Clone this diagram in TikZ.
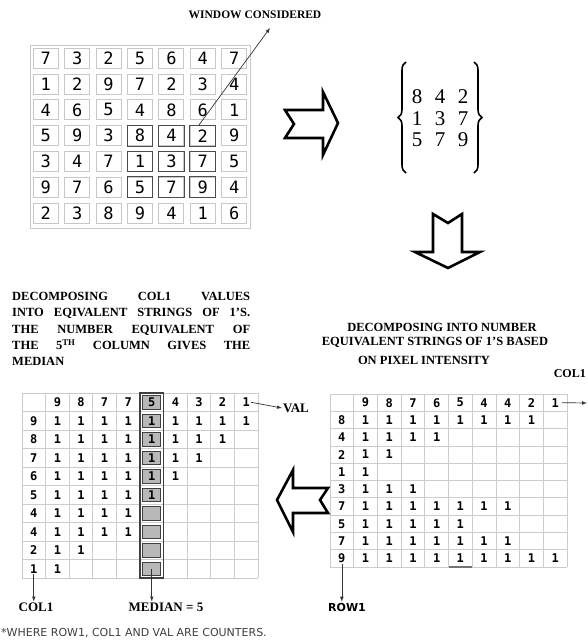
\documentclass[tikz,border=0pt]{standalone}
\usepackage{fontspec}
\usetikzlibrary{decorations.pathreplacing}
\setmainfont{Liberation Serif}
\newfontfamily\digitfont{DejaVu Sans Mono}
\newfontfamily\notefont{DejaVu Sans}

\begin{document}
\begin{tikzpicture}[x=1pt,y=-1pt,>=latex,
  cell/.style={draw=black!22,line width=0.9pt,minimum width=25pt,minimum height=20pt,inner sep=0pt,
    font=\digitfont\fontsize{17}{17}\selectfont},
  winbox/.style={draw=black!70,line width=1pt},
  matnum/.style={inner sep=0pt,font=\fontsize{21}{21}\selectfont},
  curly/.style={decorate,decoration={brace,amplitude=8pt},line width=1.6pt},
  digit/.style={inner sep=1pt,font=\digitfont\bfseries\fontsize{12}{12}\selectfont},
  gridline/.style={draw=black!20,line width=0.8pt},
  medcell/.style={draw=black!75,fill=black!28,line width=0.9pt,minimum width=18pt,minimum height=13.5pt,inner sep=0pt},
  heading/.style={font=\bfseries\fontsize{12.5}{16.3}\selectfont},
  countlabel/.style={inner sep=1pt,font=\bfseries\fontsize{13}{13}\selectfont},
  hollow/.style={draw=black,line width=2.6pt,line join=miter},
  pointer/.style={->,line width=0.7pt,draw=black!80}]

  \useasboundingbox (0,0) rectangle (588,641);
  \clip (0,0) rectangle (588,641);

  % image with the 3x3 window
  \draw[black!22,line width=0.9pt] (30,45) rectangle (250,228);
  \begin{scope}[shift={(45.8,58.3)},x=31.4pt,y=-25.8pt]
    \foreach \row [count=\r from 0] in {{7,3,2,5,6,4,7},{1,2,9,7,2,3,4},{4,6,5,4,8,6,1},
        {5,9,3,8,4,2,9},{3,4,7,1,3,7,5},{9,7,6,5,7,9,4},{2,3,8,9,4,1,6}}
      \foreach \v [count=\c from 0] in \row
        \node[cell] (g-\r-\c) at (\c,\r) {\v};
  \end{scope}
  \foreach \r in {3,4,5}
    \foreach \c in {3,4,5}
      \draw[winbox] (g-\r-\c.south west) rectangle (g-\r-\c.north east);

  \node[font=\bfseries\fontsize{11.5}{12}\selectfont] (window) at (255,15) {WINDOW CONSIDERED};
  \coordinate (wintip) at (270,28);
  \draw[pointer] ([xshift=-4pt]g-3-5.north) -- (wintip);

  % arrow to the window values
  \draw[hollow] (285,110) -- (323,110) -- (323,92) -- (338,123) -- (323,155) -- (323,138)
    -- (285,138) -- (294,124) -- cycle;

  % window values
  \foreach \row [count=\r from 0] in {{8,4,2},{1,3,7},{5,7,9}}
    \foreach \v [count=\c from 0] in \row
      \node[matnum] (m-\r-\c) at (417+23*\c,97+21.5*\r) {\v};
  \draw[curly] (406,173) -- (406,62);
  \draw[curly] (474,62) -- (474,173);

  % arrow down
  \draw[hollow] (433,214) -- (448,223) -- (462,214) -- (462,252) -- (480,252) -- (448,268)
    -- (415,252) -- (433,252) -- cycle;

  \node[heading] (dec1) at (442,327) {DECOMPOSING INTO NUMBER};
  \node[heading] (dec2) at (435,342) {EQUIVALENT STRINGS OF 1'S BASED};
  \node[heading] (dec3) at (424,360) {ON PIXEL INTENSITY};

  \node[heading,anchor=north west,inner sep=0pt,align=left] (dectext) at (12,292)
    {\makebox[238pt][s]{DECOMPOSING COL1 VALUES}\\
     \makebox[238pt][s]{INTO EQIVALENT STRINGS OF 1'S.}\\
     \makebox[238pt][s]{THE NUMBER EQUIVALENT OF}\\
     \makebox[238pt][s]{THE 5\textsuperscript{TH} COLUMN GIVES THE}\\
     MEDIAN};

  % strings of 1's per pixel
  \begin{scope}[shift={(330,394)},x=23.7pt,y=-17.3pt]
    \foreach \i in {0,...,10} {
      \draw[gridline] (\i,0) -- (\i,10);
      \draw[gridline] (0,\i) -- (10,\i);
    }
    \draw[black!55,line width=2pt] (5,10) -- (6,10);
    \foreach \v [count=\c] in {9,8,7,6,5,4,4,2,1}
      \node[digit] (R-0-\c) at (\c+0.5,0.5) {\v};
    \foreach \v [count=\r] in {8,4,2,1,3,7,5,7,9} {
      \node[digit] (R-\r-0) at (0.5,\r+0.5) {\v};
      \foreach \c in {1,...,\v}
        \node[digit] (R-\r-\c) at (\c+0.5,\r+0.5) {1};
    }
  \end{scope}
  \node[countlabel,anchor=east,font=\bfseries\fontsize{12}{12}\selectfont] (colr) at (587,374) {COL1};
  \coordinate (colend) at (587,403);
  \draw[pointer] ([xshift=2pt]R-0-9.east) -- (colend);
  \node[inner sep=1pt,font=\notefont\bfseries\fontsize{11}{11}\selectfont] (rowone) at (347,607) {ROW1};
  \draw[pointer] (R-9-0.south) -- (R-9-0.south |- rowone.north);

  % arrow back to the left
  \draw[hollow] (328,488) -- (293,488) -- (293,470) -- (277,500) -- (293,532) -- (293,513)
    -- (328,513) -- (320,500) -- cycle;

  % sorted strings of 1's
  \begin{scope}[shift={(22,393)},x=23.6pt,y=-18.5pt]
    \foreach \i in {0,...,10} {
      \draw[gridline] (\i,0) -- (\i,10);
      \draw[gridline] (0,\i) -- (10,\i);
    }
    \foreach \r in {0,...,9}
      \node[medcell] (sh-\r) at (5.5,\r+0.5) {};
    \draw[black!75,line width=1.1pt] (5,0) rectangle (6,10);
    \foreach \v [count=\c] in {9,8,7,7,5,4,3,2,1}
      \node[digit] (L-0-\c) at (\c+0.5,0.5) {\v};
    \foreach \v [count=\r] in {9,8,7,6,5,4,4,2,1} {
      \node[digit] (L-\r-0) at (0.5,\r+0.5) {\v};
      \foreach \c in {1,...,\v}
        \node[digit] (L-\r-\c) at (\c+0.5,\r+0.5) {1};
    }
  \end{scope}
  \node[countlabel] (val) at (296,408) {VAL};
  \draw[pointer] (L-0-9.east) -- (val.west);
  \node[countlabel] (colone) at (36,607) {COL1};
  \draw[pointer] (L-9-0.south) -- (L-9-0.south |- colone.north);
  \node[countlabel] (median) at (166,607) {MEDIAN = 5};
  \draw[pointer] (sh-9.center) -- (sh-9.center |- median.north);

  \node[anchor=west,inner sep=0pt,text=black!75,font=\notefont\fontsize{11}{11}\selectfont] (note)
    at (1,633) {*WHERE ROW1, COL1 AND VAL ARE COUNTERS.};
\end{tikzpicture}
\end{document}
